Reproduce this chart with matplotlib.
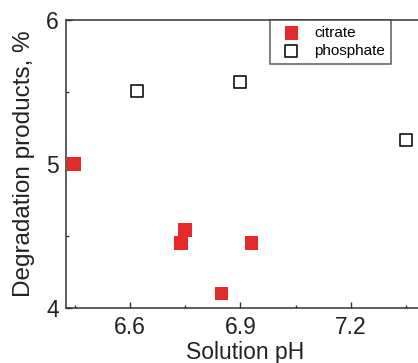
import matplotlib
matplotlib.use("Agg")
import matplotlib.pyplot as plt
from matplotlib.ticker import MultipleLocator

citrate_ph = [6.448, 6.739, 6.750, 6.930, 6.848]
citrate_deg = [5.00, 4.45, 4.54, 4.45, 4.10]
phosphate_ph = [6.62, 6.90, 7.35]
phosphate_deg = [5.51, 5.57, 5.17]
xticks = [6.6, 6.9, 7.2]
yticks = [4, 5, 6]

plt.rcParams['font.family'] = ['Liberation Sans', 'DejaVu Sans']

fig = plt.figure(figsize=(4.18, 3.63), dpi=100)
x0 = 66 / 418
y0 = 1 - 308 / 363
top = 1 - 20 / 363
xmin, xmax = 6.426, 7.40
right_px = 66 + (xmax - xmin) * 368
ax = fig.add_axes([x0, y0, right_px / 418 - x0, top - y0])

ax.scatter(citrate_ph, citrate_deg, marker='s', s=95, color='#e32b2b',
           edgecolors='none', label='citrate', zorder=3)
ax.scatter(phosphate_ph, phosphate_deg, marker='s', s=85, facecolors='white',
           edgecolors='#111111', linewidths=1.2, label='phosphate', zorder=3)

ax.set_xlim(xmin, xmax)
ax.set_ylim(4, 6)
ax.set_xticks(xticks)
ax.set_xticklabels([str(v) for v in xticks])
ax.set_yticks(yticks)
ax.set_yticklabels([str(v) for v in yticks])
ax.xaxis.set_minor_locator(MultipleLocator(0.15))
ax.yaxis.set_minor_locator(MultipleLocator(0.5))
ax.tick_params(which='both', direction='in', top=False, right=False,
               labelsize=16.5, color='#333333', labelcolor='#222222')
ax.tick_params(which='major', length=4, width=1)
ax.tick_params(which='minor', length=2.5, width=1)
ax.tick_params(axis='x', pad=6)
ax.tick_params(axis='y', pad=5)
for side in ['left', 'bottom', 'top', 'right']:
    ax.spines[side].set_linewidth(1.1)
    ax.spines[side].set_color('#333333')

ax.set_xlabel('Solution pH', fontsize=16.5, labelpad=1, color='#222222')
ax.set_ylabel('Degradation products, %', fontsize=17.5, labelpad=8, color='#222222')

leg = ax.legend(loc='upper left', bbox_to_anchor=((270 - 66) / (right_px - 66), 1.0),
                fontsize=11, frameon=True, fancybox=False, edgecolor='#333333',
                borderpad=0.4, handletextpad=0.5, labelspacing=0.25,
                handlelength=2.0, borderaxespad=0)
leg.get_frame().set_linewidth(1.1)

fig.savefig('out.png', dpi=100)
